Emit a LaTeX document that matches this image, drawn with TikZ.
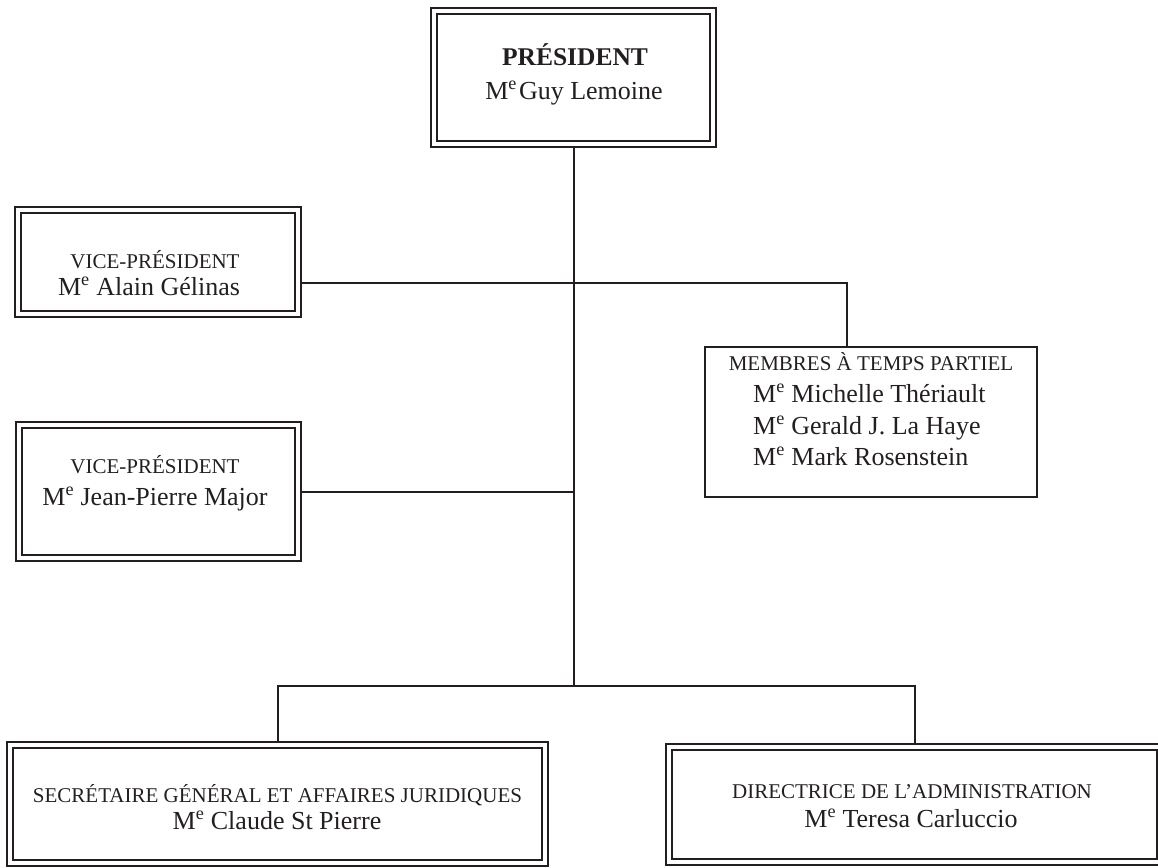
\documentclass[tikz,border=0pt]{standalone}
\usepackage{fontspec}
\setmainfont{Liberation Serif}
\usetikzlibrary{positioning,calc}
\definecolor{chart_ink}{HTML}{231F20}
\tikzset{
office_frame/.style={draw=chart_ink,line width=1.2pt,rectangle,inner sep=0pt,
  append after command={\pgfextra{\draw[chart_ink,line width=2.3pt]
    ([shift={(6.5pt,6.5pt)}]\tikzlastnode.south west) rectangle
    ([shift={(-6.5pt,-6.5pt)}]\tikzlastnode.north east);}}},
members_frame/.style={draw=chart_ink,line width=2pt,rectangle,inner sep=0pt}
}
\tikzstyle{title_text} =[text=chart_ink,anchor=base,inner sep=0pt,font=\fontsize{21}{24}\selectfont]
\tikzstyle{name_text} =[text=chart_ink,anchor=base,inner sep=0pt,font=\fontsize{26}{30}\selectfont]
\tikzstyle{connector} =[draw=chart_ink,line width=2pt]

\begin{document}
\begin{tikzpicture}[x=1pt,y=-1pt]
    \useasboundingbox (0,0) rectangle (1158,867);

    % President
    \node[office_frame,minimum width=285pt,minimum height=139pt] (president) at (573.5,77.5) {};
    \node[title_text,font=\bfseries\fontsize{25.5}{30}\selectfont] (president_title) at (575,65) {PRÉSIDENT};
    \node[name_text] (president_name) at (574,99) {M\textsuperscript{e}\kern2pt Guy Lemoine};

    % Vice-presidents
    \node[office_frame,minimum width=286pt,minimum height=110pt] (vp_alain) at (158,262) {};
    \node[title_text] (vp_alain_title) at (155,268) {VICE-PRÉSIDENT};
    \node[name_text] (vp_alain_name) at (149,295) {M\textsuperscript{e} Alain Gélinas};

    \node[office_frame,minimum width=285pt,minimum height=139pt] (vp_jean) at (158.5,491.5) {};
    \node[title_text] (vp_jean_title) at (155,473) {VICE-PRÉSIDENT};
    \node[name_text] (vp_jean_name) at (155,505) {M\textsuperscript{e} Jean-Pierre Major};

    % Part-time members
    \node[members_frame,minimum width=332pt,minimum height=150pt] (part_time_members) at (871,422) {};
    \node[title_text] (part_time_title) at (871,370) {MEMBRES À TEMPS PARTIEL};
    \node[name_text,anchor=base west] (member_one) at (753,402) {M\textsuperscript{e} Michelle Thériault};
    \node[name_text,anchor=base west] (member_two) at (753,434) {M\textsuperscript{e} Gerald J. La Haye};
    \node[name_text,anchor=base west] (member_three) at (753,465) {M\textsuperscript{e} Mark Rosenstein};

    % Bottom row
    \node[office_frame,minimum width=541pt,minimum height=124pt] (secretary_general) at (277.5,804) {};
    \node[title_text] (secretary_title) at (277.5,802) {SECRÉTAIRE GÉNÉRAL ET AFFAIRES JURIDIQUES};
    \node[name_text] (secretary_name) at (277,829) {M\textsuperscript{e} Claude St Pierre};

    \node[office_frame,minimum width=497pt,minimum height=121pt] (admin_director) at (914.5,804.5) {};
    \node[title_text] (admin_title) at (912,798) {DIRECTRICE DE L’ADMINISTRATION};
    \node[name_text] (admin_name) at (911,827) {M\textsuperscript{e} Teresa Carluccio};

    % Connections
    \coordinate (members_corner) at (847,283);
    \coordinate (lower_junction) at (573.5,686);
    \draw[connector] (president.south) -- (lower_junction);
    \draw[connector] (vp_alain.east |- members_corner) -- (members_corner) -- (members_corner |- part_time_members.north);
    \draw[connector] (vp_jean.east) -- (vp_jean.east -| president.south);
    \draw[connector] (secretary_general.north) |- (lower_junction) -| (admin_director.north);
\end{tikzpicture}
\end{document}
